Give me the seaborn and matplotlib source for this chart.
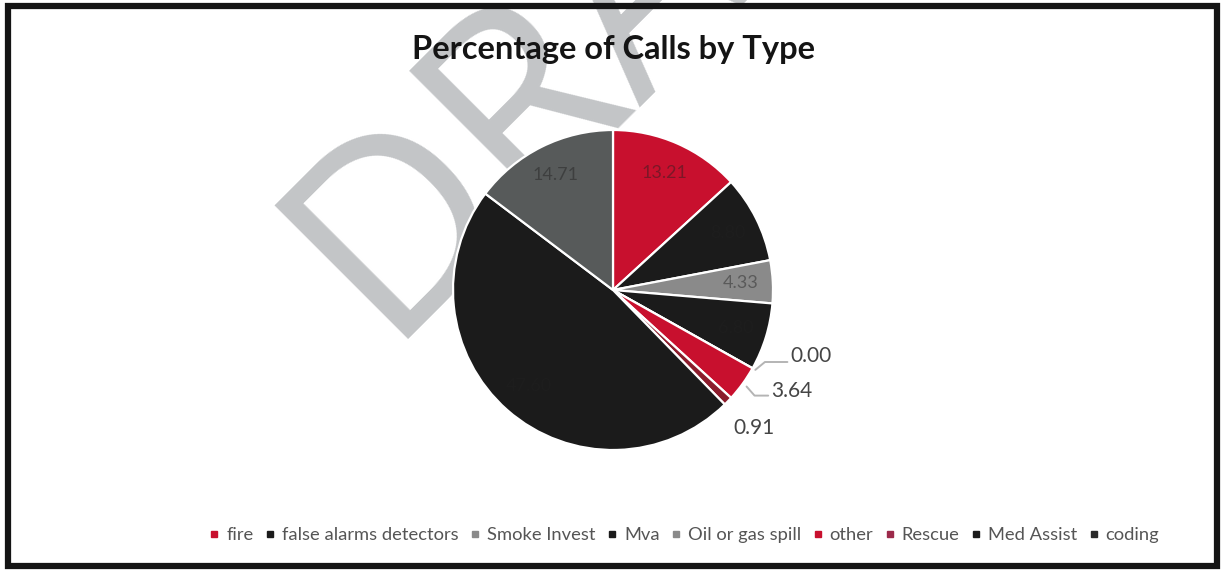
import numpy as np
import matplotlib.pyplot as plt
import seaborn as sns
from matplotlib.lines import Line2D
from matplotlib.patches import Rectangle

call_types = ['fire', 'false alarms detectors', 'Smoke Invest', 'Mva',
              'Oil or gas spill', 'other', 'Rescue', 'Med Assist', 'coding']
percentages = [13.21, 8.80, 4.33, 6.80, 0.00, 3.64, 0.91, 47.60, 14.71]
slice_colors = ['#c8102e', '#1b1b1b', '#8a8a8a', '#1b1b1b', '#8a8a8a',
                '#c8102e', '#8b1c2c', '#1b1b1b', '#575a5a']
legend_colors = ['#c8102e', '#1b1b1b', '#8a8a8a', '#1b1b1b', '#8a8a8a',
                 '#c8102e', '#9c2a4a', '#1b1b1b', '#2a2a2a']
outside_labels = ['Oil or gas spill', 'other', 'Rescue']

sns.set_theme(style='white')
plt.rcParams['font.family'] = ['Lato', 'DejaVu Sans']

W, H = 1225, 571
fig = plt.figure(figsize=(W / 100, H / 100), dpi=100)
fig.patch.set_facecolor('white')

# watermark behind everything
fig.text(383 / W, 1 - 340 / H, 'DRAFT', rotation=45, rotation_mode='anchor',
         ha='left', va='baseline', fontsize=190, color='#c3c5c7',
         family='Open Sans', zorder=-5)

# frame around the picture
fig.add_artist(Rectangle((8 / W, 5 / H), (W - 16) / W, (H - 11) / H,
                         transform=fig.transFigure, fill=False,
                         edgecolor='#141414', linewidth=4.5, zorder=10))

cx, cy, r = 613, H - 290, 160
ax = fig.add_axes([(cx - r) / W, (cy - r) / H, 2 * r / W, 2 * r / H])
ax.set_facecolor('none')

wedges, _ = ax.pie(percentages, colors=slice_colors, startangle=90,
                   counterclock=False, radius=1.0,
                   wedgeprops=dict(edgecolor='white', linewidth=1.6))
ax.set_xlim(-1, 1)
ax.set_ylim(-1, 1)
ax.set_aspect('equal')
ax.axis('off')

for w, name, val in zip(wedges, call_types, percentages):
    if name in outside_labels:
        continue
    mid = np.deg2rad((w.theta1 + w.theta2) / 2)
    ax.text(0.8 * np.cos(mid), 0.8 * np.sin(mid), f'{val:.2f}',
            ha='center', va='center', fontsize=13, color='#202020', alpha=0.45)

# small slices labelled outside, two of them with leader lines
lead = dict(color='#b4b4b4', lw=1.4, clip_on=False)
lab = dict(ha='left', va='center', fontsize=15, color='#454545', clip_on=False)
for w, name, val in zip(wedges, call_types, percentages):
    if name not in outside_labels:
        continue
    mid = np.deg2rad((w.theta1 + w.theta2) / 2)
    ex, ey = np.cos(mid), np.sin(mid)
    if name == 'Oil or gas spill':
        tx, ty = 1.11, -0.41
        ax.plot([ex * 1.02, ex * 1.02 + 0.06, tx - 0.02],
                [ey * 1.02, ty - 0.04, ty - 0.04], **lead)
    elif name == 'other':
        tx, ty = 0.99, -0.63
        ax.plot([ex * 1.03, ex * 1.03 + 0.05, tx - 0.02],
                [ey * 1.03, ty - 0.03, ty - 0.03], **lead)
    else:
        tx, ty = 0.75, -0.86
    ax.text(tx, ty, f'{val:.2f}', **lab)

title_y = (H - 50 - (cy - r)) / (2 * r)
ax.set_title('Percentage of Calls by Type', fontsize=23.5, fontweight='bold',
             color='#141414', y=title_y, va='center', pad=0)

handles = [Line2D([0], [0], marker='s', linestyle='none', markersize=5,
                  markerfacecolor=c, markeredgecolor=c) for c in legend_colors]
fig.legend(handles, call_types, loc='center', ncol=len(call_types),
           bbox_to_anchor=(684 / W, 1 - 535 / H), frameon=False, fontsize=13.2,
           handlelength=0.6, handletextpad=0.35, columnspacing=0.6,
           labelcolor='#555555')

fig.savefig('out.png', dpi=100, facecolor='white')
